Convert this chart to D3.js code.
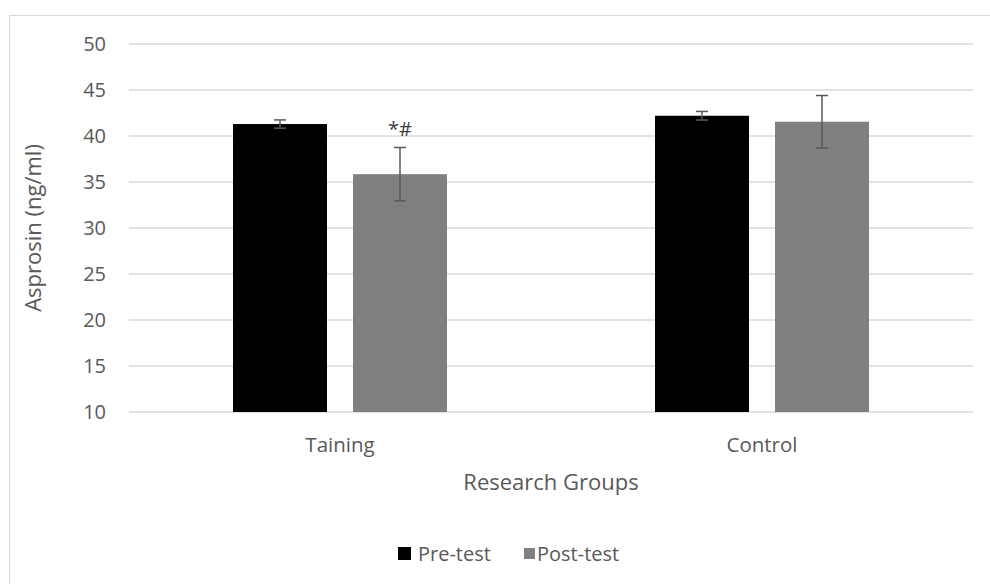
<!DOCTYPE html>
<html>
<head>
<meta charset="utf-8">
<script src="https://cdn.jsdelivr.net/npm/d3@7"></script>
<style>
  body { margin: 0; background: #fff; }
  text { font-family: "Open Sans", Lato, sans-serif; fill: #595959; }
</style>
</head>
<body>
<svg width="990" height="584"></svg>
<script>
// chart data
var groups = ['Taining', 'Control'];
var seriesNames = ['Pre-test', 'Post-test'];
var seriesColors = ['#000000', '#808080'];
var preMeans = [41.3, 42.2];
var preErrors = [0.45, 0.47];
var postMeans = [35.85, 41.55];
var postErrors = [2.9, 2.85];
var marks = ['', '*#'];  // per series, on first group only
var yTicks = [10, 15, 20, 25, 30, 35, 40, 45, 50];

var svg = d3.select('svg');
var margin = {left: 129, right: 17, top: 44, bottom: 172};
var W = 990, H = 584;

// outer chart border
svg.append('rect')
  .attr('x', 9.5).attr('y', 15.5)
  .attr('width', 990).attr('height', 600)
  .attr('fill', 'none').attr('stroke', '#d9d9d9');

var x0 = d3.scaleBand().domain(groups)
  .range([margin.left, W - margin.right]);
var y = d3.scaleLinear().domain([10, 50]).range([H - margin.bottom, margin.top]);

// gridlines
svg.append('g').selectAll('line')
  .data(yTicks)
  .enter()
  .append('line')
  .attr('x1', margin.left).attr('x2', W - margin.right)
  .attr('y1', function(d) { return y(d); })
  .attr('y2', function(d) { return y(d); })
  .attr('stroke', '#d9d9d9').attr('stroke-width', 1.3);

// y axis labels
svg.append('g').selectAll('text')
  .data(yTicks)
  .enter()
  .append('text')
  .attr('x', 106).attr('y', function(d) { return y(d); })
  .attr('dy', '0.35em')
  .attr('text-anchor', 'end')
  .style('font-size', '20px')
  .text(function(d) { return d; });

var rows = [];
groups.forEach(function(g, i) {
  rows.push({group: g, series: 'Pre-test', mean: preMeans[i], err: preErrors[i], color: seriesColors[0], mark: i === 0 ? marks[0] : ''});
  rows.push({group: g, series: 'Post-test', mean: postMeans[i], err: postErrors[i], color: seriesColors[1], mark: i === 0 ? marks[1] : ''});
});

var bw = 94;
function barX(d) {
  var inner = (x0.bandwidth() - 214) / 2;
  return x0(d.group) + inner + (d.series === 'Pre-test' ? 0 : bw + 26);
}

svg.append('g').selectAll('rect')
  .data(rows)
  .enter()
  .append('rect')
  .attr('x', barX)
  .attr('width', bw)
  .attr('y', function(d) { return y(d.mean); })
  .attr('height', function(d) { return y(10) - y(d.mean); })
  .attr('fill', function(d) { return d.color; });

// error bars
var eb = svg.append('g').attr('stroke', '#595959').attr('stroke-width', 1.5);
rows.forEach(function(d) {
  var cx = barX(d) + bw / 2;
  eb.append('line').attr('x1', cx).attr('x2', cx)
    .attr('y1', y(d.mean + d.err)).attr('y2', y(d.mean - d.err));
  [d.mean + d.err, d.mean - d.err].forEach(function(v) {
    eb.append('line').attr('x1', cx - 6).attr('x2', cx + 6)
      .attr('y1', y(v)).attr('y2', y(v));
  });
  if (d.mark) {
    svg.append('text')
      .attr('x', cx).attr('y', y(d.mean + d.err) - 12)
      .attr('text-anchor', 'middle')
      .style('font-size', '20px')
      .style('fill', '#404040')
      .text(d.mark);
  }
});

// category labels
svg.append('g').selectAll('text')
  .data(groups)
  .enter()
  .append('text')
  .attr('x', function(d) { return x0(d) + x0.bandwidth() / 2; })
  .attr('y', 445)
  .attr('dy', '0.35em')
  .attr('text-anchor', 'middle')
  .style('font-size', '20.5px')
  .text(function(d) { return d; });

// axis titles
svg.append('text')
  .attr('x', (margin.left + W - margin.right) / 2).attr('y', 482)
  .attr('dy', '0.35em')
  .attr('text-anchor', 'middle')
  .style('font-size', '22px')
  .text('Research Groups');

svg.append('text')
  .attr('transform', 'translate(33,' + ((y(10) + y(50)) / 2) + ') rotate(-90)')
  .attr('dy', '0.35em')
  .attr('text-anchor', 'middle')
  .style('font-size', '22px')
  .text('Asprosin (ng/ml)');

// legend
var leg = svg.append('g').selectAll('g')
  .data(seriesNames)
  .enter()
  .append('g')
  .attr('transform', function(d, i) {
    return 'translate(' + (398 + i * 126) + ',' + 547 + ')';
  });
leg.append('rect')
  .attr('width', function(d, i) { return i === 0 ? 13 : 11; })
  .attr('height', function(d, i) { return i === 0 ? 13 : 11; })
  .attr('y', function(d, i) { return i === 0 ? 0 : 1; })
  .attr('fill', function(d, i) { return seriesColors[i]; });
leg.append('text')
  .attr('x', function(d, i) { return i === 0 ? 20 : 13; })
  .attr('y', 7)
  .attr('dy', '0.35em')
  .style('font-size', '20px')
  .text(function(d) { return d; });
</script>
</body>
</html>
